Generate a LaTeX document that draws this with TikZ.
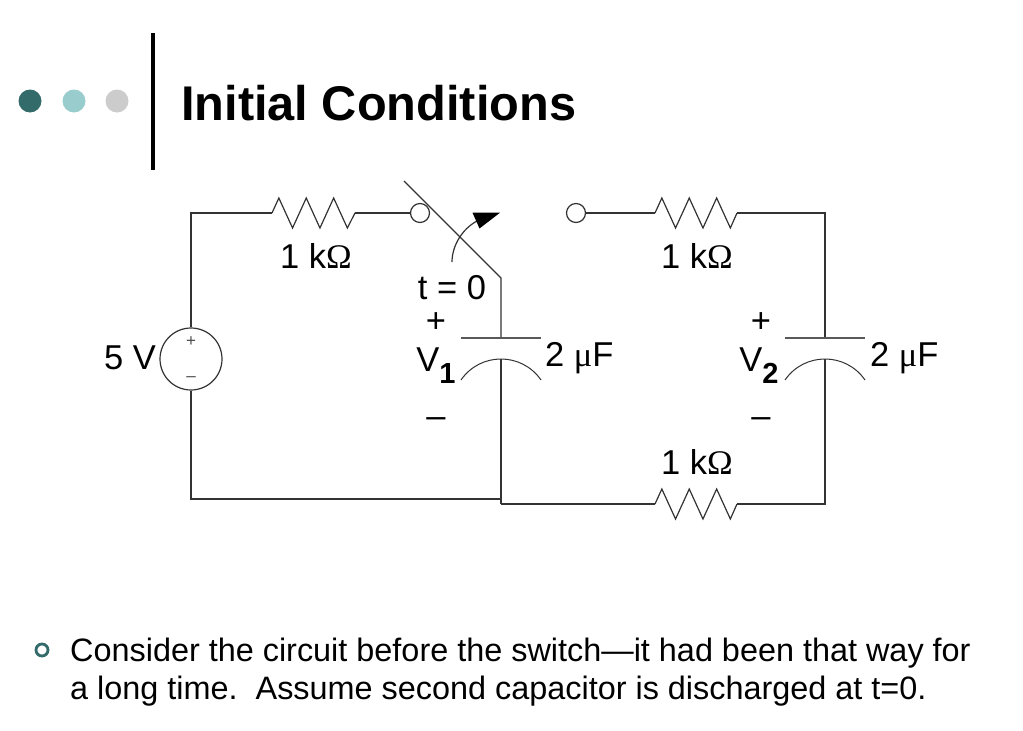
\documentclass[tikz,border=0pt]{standalone}
\usepackage{fontspec}
\setmainfont{Liberation Sans}
\newfontfamily\symfont{Liberation Serif}
\definecolor{tealdark}{HTML}{336B6B}
\definecolor{teallight}{HTML}{99CCCC}
\definecolor{dotgray}{HTML}{CCCCCC}
\definecolor{wirec}{HTML}{333333}
\begin{document}
\begin{tikzpicture}[x=1pt,y=-1pt,
  wire/.style={line width=1.2pt, draw=wirec},
  dotnode/.style={circle, inner sep=0pt, minimum size=23pt},
  lbl/.style={font=\fontsize{34.5}{40}\selectfont, inner sep=0pt},
  txt/.style={font=\fontsize{32.4}{38}\selectfont, inner sep=0pt},
  small/.style={font=\fontsize{17}{17}\selectfont, inner sep=0pt, text=black!70},
  contact/.style={circle, draw=wirec, line width=1.2pt, fill=white, inner sep=0pt, minimum size=19pt},
  resistor/.style={wire}
]
\useasboundingbox (0,0) rectangle (1023,731);
\fill[white] (0,0) rectangle (1023,731);

% header
\node[dotnode, fill=tealdark] (d1) at (30,101) {};
\node[dotnode, fill=teallight] (d2) at (74,101) {};
\node[dotnode, fill=dotgray] (d3) at (117,101) {};
\draw[line width=3.5pt] (153,33) -- (153,170);
\node[anchor=base west, inner sep=0pt, font=\fontsize{48.7}{58}\selectfont\bfseries] (title) at (181,120) {Initial Conditions};

% coordinates
\coordinate (A) at (191,213);
\coordinate (B) at (191,499);
\coordinate (r1a) at (272,213);
\coordinate (r1b) at (355,213);
\node[contact] (s1) at (420,213) {};
\node[contact] (s2) at (576,213) {};
\coordinate (r2a) at (655,213);
\coordinate (r2b) at (737,213);
\coordinate (TR) at (825,213);
\coordinate (c2t) at (825,338);
\coordinate (c2b) at (825,359);
\coordinate (BR) at (825,504);
\coordinate (r3b) at (737,504);
\coordinate (r3a) at (655,504);
\coordinate (BM) at (501,504);
\coordinate (BL) at (501,499);
\coordinate (c1t) at (501,338);
\coordinate (c1b) at (501,359);
\coordinate (blade0) at (404,181);
\coordinate (blade1) at (501,278);

% source
\node[circle, draw=wirec, line width=1.2pt, minimum size=62pt, inner sep=0pt] (src) at (191,359) {};
\node[small] (sp) at (191,342) {+};
\node[small] (sm) at (191,379) {–};
\node[lbl, anchor=east] (v5) at (156,358) {5 V};

% wires
\draw[wire] (src.north) -- (A) -- (r1a);
\draw[resistor] (r1a) -- ++(6.85,-15) -- ++(13.7,30) -- ++(13.7,-30) -- ++(13.7,30) -- ++(13.7,-30) -- ++(13.7,30) -- (r1b);
\draw[wire] (r1b) -- (s1.west);
\draw[wire] (src.south) -- (B) -- (BL) -- (BM);

% switch
\draw[wire] (blade0) -- (blade1) -- (c1t);
\draw[wire] (452,262) .. controls (452,246) and (462,229) .. (477,221);
\fill[black] (472.5,212.7) -- (500,212.7) -- (479.5,228.5) -- cycle;

% capacitor 1
\draw[wire, draw=black!65, line width=1.4pt] (461,338) -- (541,338);
\draw[wire, line width=1.0pt] (461,380) .. controls (480.3,352) and (521.7,352) .. (541,380);
\draw[wire] (c1b) -- (BM);

% right side
\draw[wire] (s2.east) -- (r2a);
\draw[resistor] (r2a) -- ++(6.85,-15) -- ++(13.7,30) -- ++(13.7,-30) -- ++(13.7,30) -- ++(13.7,-30) -- ++(13.7,30) -- (r2b);
\draw[wire] (r2b) -- (TR) -- (c2t);
\draw[wire, draw=black!65, line width=1.4pt] (785,338) -- (865,338);
\draw[wire, line width=1.0pt] (785,380) .. controls (804.3,352) and (845.7,352) .. (865,380);
\draw[wire] (c2b) -- (BR) -- (r3b);
\draw[resistor] (r3a) -- ++(6.85,-15) -- ++(13.7,30) -- ++(13.7,-30) -- ++(13.7,30) -- ++(13.7,-30) -- ++(13.7,30) -- (r3b);
\draw[wire] (r3a) -- (BM);

% labels
\node[lbl] (l1) at (316,256) {1 k{\symfont Ω}};
\node[lbl] (l2) at (697,256) {1 k{\symfont Ω}};
\node[lbl] (l3) at (697,462) {1 k{\symfont Ω}};
\node[lbl] (t0) at (452,288) {t = 0};
\node[lbl] (p1) at (436,323) {+};
\node[lbl] (v1) at (436,366) {V\raisebox{-12pt}{\fontsize{29}{29}\selectfont\bfseries 1}};
\node[lbl] (m1) at (436,423) {–};
\node[lbl, anchor=west] (c1l) at (545,358) {2 {\symfont μ}F};
\node[lbl] (p2) at (761,323) {+};
\node[lbl] (v2) at (759,366) {V\raisebox{-12pt}{\fontsize{29}{29}\selectfont\bfseries 2}};
\node[lbl] (m2) at (761,423) {–};
\node[lbl, anchor=west] (c2l) at (870,358) {2 {\symfont μ}F};

% bullet
\node[circle, draw=tealdark, line width=2.8pt, minimum size=12pt, inner sep=0pt] (bul) at (42,650) {};
\node[txt, anchor=base west] (b1) at (70,661) {Consider the circuit before the switch—it had been that way for};
\node[txt, anchor=base west] (b2) at (70,699) {a long time.\ \ Assume second capacitor is discharged at t=0.};
\end{tikzpicture}
\end{document}
